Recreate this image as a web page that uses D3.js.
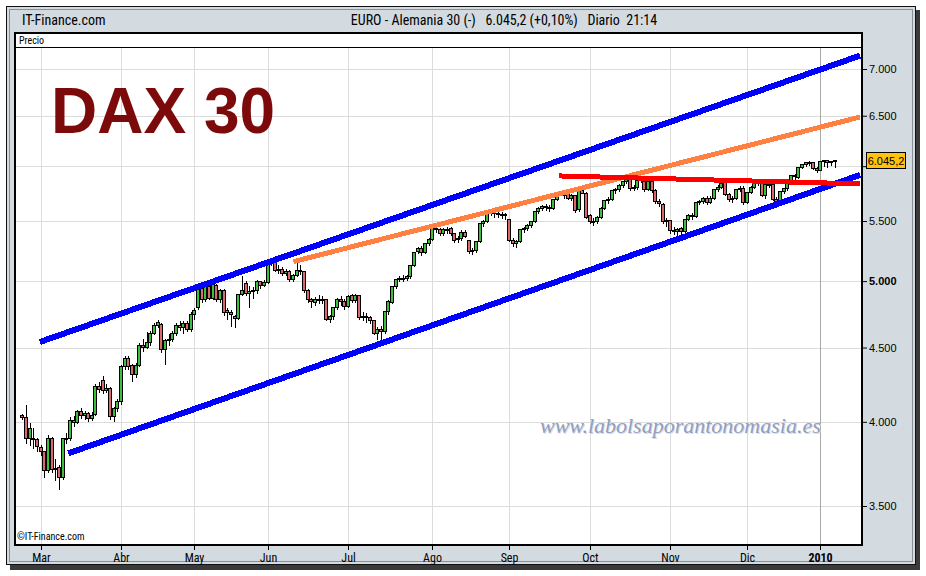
<!DOCTYPE html>
<html><head><meta charset="utf-8">
<script src="https://cdn.jsdelivr.net/npm/d3@7"></script>
<style>body{margin:0;background:#fff}svg{display:block}</style>
</head><body>
<svg id="c" width="926" height="576"></svg>
<script>
// ---- DATA (DAX 30 daily candles, 23 Feb 2009 - 8 Jan 2010) ----
const opens = [
4035,4025,3890,3895,3885,
3840,3810,3700,3895,3705,3720,3660,3890,3895,4005,3995,4060,4040,4050,4020,4045,4230,4270,4200,4215,4030,4080,
4130,4360,4420,4370,4305,4370,4510,4500,4530,4600,4660,4665,4480,4550,4555,4595,4660,4645,4670,4625,
4740,4790,4935,4850,4950,4860,4960,4850,4920,4770,4755,4725,4710,4890,4980,4900,4915,4920,4990,4965,
4985,5140,5170,5080,5090,5060,5075,5010,5040,5085,5075,4920,4850,4830,4850,4855,4850,4700,4720,4790,4850,4840,
4800,4880,4845,4880,4715,4720,4715,4690,4600,4630,4610,4760,4830,4950,5010,5020,5015,5030,5120,5240,5260,5230,5300,
5340,5430,5420,5385,5425,5430,5390,5335,5345,5400,5330,5235,5245,5320,5470,5490,5570,5575,5560,5555,5545,
5510,5330,5300,5320,5420,5430,5460,5490,5580,5605,5620,5615,5610,5690,5740,5725,5745,5700,5720,5595,5770,5745,
5540,5495,5490,5530,5610,5680,5690,5770,5775,5810,5850,5870,5790,5795,5860,5850,5780,5855,5770,5670,5640,5490,
5500,5410,5405,5430,5405,5510,5540,5535,5660,5665,5700,5660,5700,5780,5800,5850,5730,5690,5700,5780,5785,
5660,5750,5800,5850,5850,5720,5820,5820,5690,5670,5760,5790,5830,5910,5890,5980,6010,6030,6030,5970,
5955,6040,6045,6035,6040];
const highs = [
4050,4110,3990,3960,3900,
3855,3820,3920,3905,3770,3735,3900,3930,4030,4040,4075,4090,4070,4065,4060,4245,4260,4300,4250,4225,4095,4150,
4375,4440,4440,4385,4390,4530,4560,4610,4620,4680,4700,4680,4560,4600,4620,4680,4690,4690,4690,4760,
4790,4950,4960,4970,4990,4990,4980,4935,4940,4790,4775,4740,4900,5040,5000,4960,4950,5010,5000,5010,
5160,5190,5200,5130,5110,5100,5090,5060,5180,5130,5080,4935,4870,4875,4890,4880,4860,4740,4800,4870,4880,4860,
4890,4900,4900,4890,4760,4750,4730,4700,4650,4660,4770,4850,4960,5020,5040,5050,5050,5130,5240,5280,5290,5310,5350,
5440,5480,5440,5440,5450,5450,5400,5370,5420,5420,5340,5270,5330,5480,5510,5590,5600,5600,5590,5580,5570,
5520,5350,5340,5430,5450,5470,5500,5590,5620,5640,5650,5640,5700,5750,5770,5760,5760,5740,5730,5780,5800,5760,
5560,5530,5545,5620,5690,5710,5780,5800,5830,5860,5890,5890,5820,5870,5895,5870,5870,5870,5790,5700,5660,5530,
5510,5450,5440,5450,5520,5560,5570,5670,5690,5710,5720,5720,5790,5820,5840,5870,5750,5720,5790,5810,5810,
5760,5810,5860,5870,5870,5830,5850,5840,5710,5770,5800,5830,5920,5930,5990,6020,6040,6050,6040,5990,
6050,6060,6055,6050,6060];
const lows = [
4010,3860,3850,3830,3810,
3790,3660,3690,3690,3640,3590,3650,3860,3880,3970,3985,4020,4010,4000,4005,4035,4190,4180,4190,4010,4000,4060,
4110,4340,4340,4260,4290,4360,4470,4490,4510,4590,4640,4460,4380,4510,4540,4585,4620,4600,4610,4610,
4700,4780,4830,4840,4850,4850,4840,4830,4730,4700,4650,4640,4700,4880,4880,4790,4860,4900,4940,4950,
4975,5120,5070,5060,5040,5040,4990,4990,5030,5050,4910,4830,4790,4810,4820,4825,4690,4680,4700,4780,4810,4780,
4790,4830,4830,4700,4690,4680,4670,4590,4555,4545,4600,4740,4820,4940,4990,4990,5000,5020,5110,5220,5200,5220,5290,
5330,5400,5370,5370,5390,5370,5310,5310,5330,5350,5220,5210,5230,5310,5450,5480,5540,5530,5530,5520,5510,
5320,5280,5270,5310,5400,5410,5440,5480,5560,5590,5590,5580,5600,5680,5720,5700,5690,5680,5570,5580,5740,5520,
5470,5460,5470,5520,5600,5650,5680,5740,5760,5800,5830,5770,5770,5780,5840,5760,5770,5750,5650,5620,5470,5450,
5390,5380,5370,5380,5395,5500,5510,5530,5640,5650,5640,5650,5690,5760,5790,5720,5670,5660,5690,5760,5640,
5650,5740,5790,5810,5710,5700,5800,5680,5640,5660,5740,5770,5820,5870,5880,5970,5990,6000,5960,5940,
5950,5990,5980,6000,5985];
const closes = [
4025,3890,3955,3885,3843,
3810,3700,3895,3705,3712,3660,3890,3895,4005,3995,4060,4040,4050,4020,4035,4230,4205,4200,4215,4030,4080,4130,
4360,4420,4360,4305,4370,4510,4500,4530,4600,4660,4680,4480,4550,4555,4595,4660,4645,4670,4625,4740,
4765,4930,4850,4950,4860,4970,4850,4920,4750,4750,4735,4710,4890,4920,4900,4915,4920,4990,4965,4985,
5140,5170,5080,5090,5060,5075,5010,5040,5085,5075,4920,4850,4840,4850,4855,4850,4700,4720,4790,4850,4840,4800,
4875,4845,4880,4715,4720,4715,4690,4600,4630,4610,4760,4840,4950,5010,5020,5015,5030,5120,5230,5260,5230,5300,5335,
5430,5420,5385,5425,5410,5385,5330,5345,5400,5365,5235,5245,5320,5470,5490,5570,5575,5560,5555,5545,5550,
5330,5300,5320,5420,5430,5460,5490,5580,5610,5620,5615,5610,5690,5740,5745,5750,5700,5720,5590,5770,5745,5530,
5490,5490,5530,5610,5680,5690,5770,5775,5810,5850,5870,5790,5800,5860,5870,5780,5855,5770,5670,5650,5490,5500,
5410,5415,5425,5405,5510,5540,5535,5660,5665,5700,5660,5700,5780,5800,5830,5730,5690,5700,5780,5785,5660,
5750,5800,5850,5830,5720,5820,5825,5690,5670,5760,5790,5830,5910,5895,5980,6010,6030,6035,5970,5955,
6040,6045,6035,6040,6045];
// first candle index of each month
const monthIdx    = [5,27,47,67,89,112,133,155,177,198,218];
const monthLabels = ["Mar","Abr","May","Jun","Jul","Ago","Sep","Oct","Nov","Dic","2010"];
const yTicks = [3500,4000,4500,5000,5500,6000,6500,7000];
// trend lines as [candle index, price]
const channelUpper = [[4.8,4540],[228.9,7150]];
const channelLower = [[12.6,3805],[228.9,5917]];
const lineOrange   = [[74.1,5157],[228.9,6487]];
const lineRed      = [[146.6,5908],[228.9,5834]];
const lastPrice = 6045.2;
const titleText = "EURO - Alemania 30 (-)   6.045,2 (+0,10%)   Diario  21:14";

// ---- LAYOUT ----
const svg = d3.select("#c");
const P = {l:15, r:862, t:33, strip:47, b:545};
const narrow = "'Liberation Sans Narrow','Arial Narrow','Roboto Condensed',sans-serif";
const loc = d3.formatLocale({decimal:",", thousands:".", grouping:[3], currency:["","€"]});
const fmt0 = loc.format(",.0f"), fmt1 = loc.format(",.1f");

const x = d3.scaleLinear().domain([0, closes.length-1]).range([22.3, 834.8]);
const y = d3.scaleLog().domain([3500,7000]).range([506,69]);

// frame
svg.append("rect").attr("width",926).attr("height",576).attr("fill","#fff");
svg.append("rect").attr("x",10).attr("y",10).attr("width",910).attr("height",560).attr("fill","#3a3a3a");
svg.append("rect").attr("x",6.5).attr("y",6.5).attr("width",909).attr("height",558)
  .attr("fill","#d3dbe0").attr("stroke","#111").attr("stroke-width",1);
svg.append("rect").attr("x",9.5).attr("y",9.5).attr("width",903).attr("height",552)
  .attr("fill","none").attr("stroke","#8a9196").attr("stroke-width",1);

// header
svg.append("text").attr("x",22).attr("y",25).text("IT-Finance.com")
  .attr("font-family",narrow).attr("font-size",14).attr("fill","#000");
svg.append("text").attr("x",504).attr("y",25).attr("text-anchor","middle").text(titleText)
  .attr("font-family",narrow).attr("font-size",14).attr("fill","#000")
  .style("white-space","pre");

// plot area
svg.append("rect").attr("x",P.l).attr("y",P.t).attr("width",P.r-P.l).attr("height",P.b-P.t)
  .attr("fill","#fff").attr("stroke","#000").attr("stroke-width",2);
svg.append("line").attr("x1",P.l).attr("x2",P.r).attr("y1",P.strip+0.5).attr("y2",P.strip+0.5)
  .attr("stroke","#000").attr("stroke-width",1);
svg.append("text").attr("x",19).attr("y",44).text("Precio")
  .attr("font-family",narrow).attr("font-size",10).attr("fill","#000");

svg.append("defs").append("clipPath").attr("id","clip").append("rect")
  .attr("x",P.l+1).attr("y",P.strip+1).attr("width",P.r-P.l-2).attr("height",P.b-P.strip-2);
const g = svg.append("g").attr("clip-path","url(#clip)");

// grid
g.selectAll(".hg").data(yTicks).join("line")
  .attr("x1",P.l).attr("x2",P.r)
  .attr("y1",d=>Math.round(y(d))+0.5).attr("y2",d=>Math.round(y(d))+0.5)
  .attr("stroke","#dcdcdc");
g.selectAll(".vg").data(monthIdx).join("line")
  .attr("x1",d=>Math.round(x(d))+0.5).attr("x2",d=>Math.round(x(d))+0.5)
  .attr("y1",P.strip).attr("y2",P.b)
  .attr("stroke",(d,i)=>monthLabels[i]==="2010"?"#a8a8a8":"#dcdcdc");

// watermark
const wmFont = "'Liberation Serif','DejaVu Serif',serif";
svg.append("text").attr("x",541).attr("y",434).text("www.labolsaporantonomasia.es")
  .attr("font-family",wmFont).attr("font-style","italic")
  .attr("font-size",22).attr("fill","#d6dbe5");
svg.append("text").attr("x",540).attr("y",433).text("www.labolsaporantonomasia.es")
  .attr("font-family",wmFont).attr("font-style","italic")
  .attr("font-size",22).attr("fill","#919dc0");

// DAX 30 title
svg.append("text").attr("x",51).attr("y",133).text("DAX 30")
  .attr("font-family","'Liberation Sans',Arial,sans-serif").attr("font-weight","bold")
  .attr("font-size",64).attr("fill","#7d0a0a");

// candles
const idx = d3.range(closes.length);
const cx = i => Math.round(x(i));
g.selectAll(".wick").data(idx).join("line")
  .attr("x1",i=>cx(i)+0.5).attr("x2",i=>cx(i)+0.5)
  .attr("y1",i=>Math.round(y(Math.max(highs[i],opens[i],closes[i]))))
  .attr("y2",i=>Math.round(y(Math.min(lows[i],opens[i],closes[i]))))
  .attr("stroke","#000").attr("stroke-width",1).attr("shape-rendering","crispEdges");
g.selectAll(".body").data(idx).join("rect")
  .attr("x",i=>cx(i)-1.5).attr("width",3)
  .attr("y",i=>Math.round(y(Math.max(opens[i],closes[i])))-0.5)
  .attr("height",i=>Math.max(1,Math.round(y(Math.min(opens[i],closes[i])))-Math.round(y(Math.max(opens[i],closes[i])))))
  .attr("fill",i=>closes[i]>=opens[i]?"#3cbf3c":"#d9696b")
  .attr("stroke","#000").attr("stroke-width",1).attr("shape-rendering","crispEdges");

// trend lines
const lineGen = d3.line().x(d=>x(d[0])).y(d=>y(d[1]));
[[channelUpper,"#0000ff",6],[channelLower,"#0000ff",6],[lineOrange,"#ff8040",5],[lineRed,"#ff0000",5]]
.forEach(([pts,col,w])=>{
  g.append("path").attr("d",lineGen(pts)).attr("fill","none").attr("stroke",col)
   .attr("stroke-width",w).attr("shape-rendering","crispEdges");
});

// copyright
svg.append("text").attr("x",17).attr("y",540).text("©IT-Finance.com")
  .attr("font-family",narrow).attr("font-size",10).attr("fill","#000");

// y axis
const tagY = y(lastPrice);
const yAxis = d3.axisRight(y).tickValues(yTicks).tickSize(5).tickPadding(2)
  .tickFormat(d=>Math.abs(y(d)-tagY)<12?"":fmt0(d));
const ya = svg.append("g").attr("transform",`translate(${P.r},0)`).call(yAxis);
ya.select(".domain").remove();
ya.selectAll("line").attr("stroke","#000");
ya.selectAll("text").attr("font-family","'Liberation Sans',Arial,sans-serif").attr("font-size",11)
  .attr("fill","#000").attr("font-weight",d=>d===5000?"bold":"normal");

// price tag
svg.append("rect").attr("x",866.5).attr("y",Math.round(tagY)-8.5).attr("width",39).attr("height",16)
  .attr("fill","#ffc20e").attr("stroke","#000").attr("stroke-width",1);
svg.append("text").attr("x",886).attr("y",Math.round(tagY)+4).attr("text-anchor","middle")
  .text(fmt1(lastPrice)).attr("font-family","'Liberation Sans',Arial,sans-serif").attr("font-size",11).attr("fill","#000");

// x axis
const xAxis = d3.axisBottom(x).tickValues(monthIdx).tickSize(5).tickPadding(3)
  .tickFormat((d,i)=>monthLabels[i]);
const xa = svg.append("g").attr("transform",`translate(0,${P.b})`).call(xAxis);
xa.select(".domain").remove();
xa.selectAll(".tick").attr("transform",d=>`translate(${Math.round(x(d))+0.5},0)`);
xa.selectAll("line").attr("stroke","#000");
xa.selectAll("text").attr("font-family",narrow).attr("font-size",12).attr("fill","#000")
  .attr("font-weight",(d,i)=>monthLabels[i]==="2010"?"bold":"normal");
</script>
</body></html>
